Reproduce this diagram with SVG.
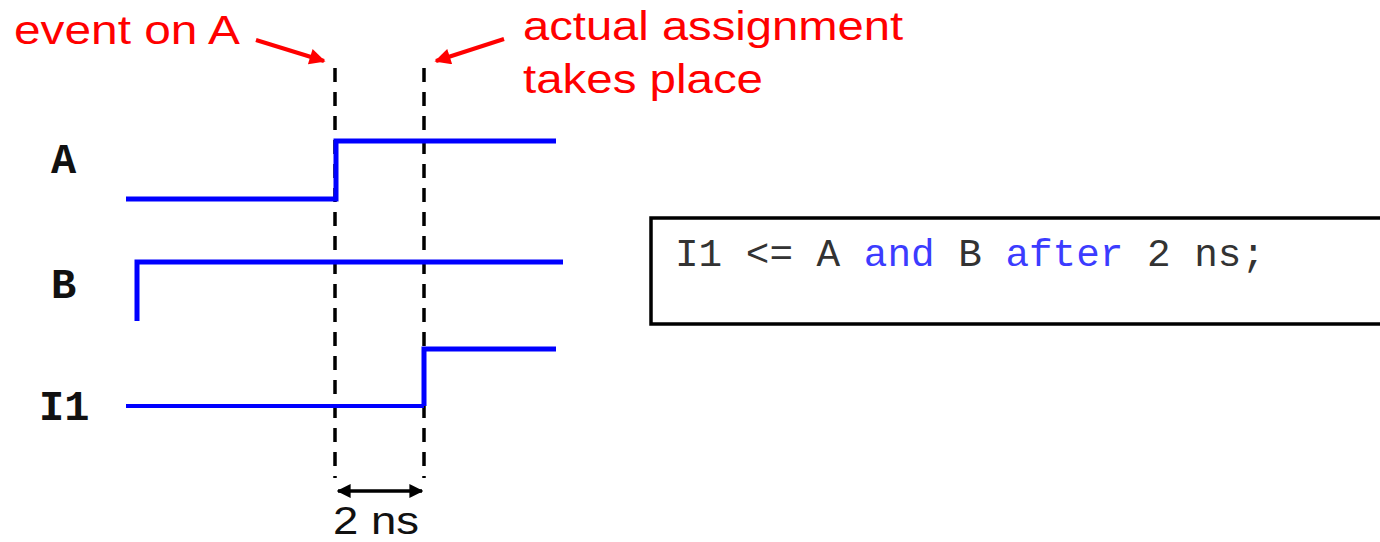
<svg xmlns="http://www.w3.org/2000/svg" width="1380" height="542" viewBox="0 0 1380 542">
<style>
.sig{fill:none;stroke:#0000ff;stroke-width:5;stroke-linejoin:miter}
.dash{fill:none;stroke:#000;stroke-width:3.5;stroke-dasharray:14 10}
.red{font-family:"Liberation Sans",Arial,sans-serif;font-size:40px;fill:#ff0000}
.lbl{font-family:"Liberation Mono","Courier New",monospace;font-weight:bold;font-size:42px;fill:#111}
.code{font-family:"Liberation Mono","Courier New",monospace;font-size:39px;fill:#333}
.kw{fill:#3c3cff}
.ra{fill:none;stroke:#ff0000;stroke-width:4}
.ba{fill:none;stroke:#000;stroke-width:3.5}
</style>
<defs>
<marker id="redhead" viewBox="0 0 10 10" refX="9" refY="5" markerWidth="4.2" markerHeight="4" markerUnits="strokeWidth" orient="auto">
<path d="M0,0 L10,5 L0,10 z" fill="#ff0000"/>
</marker>
<marker id="blkhead" viewBox="0 0 10 10" refX="9" refY="5" markerWidth="4" markerHeight="4" markerUnits="strokeWidth" orient="auto-start-reverse">
<path d="M0,0 L10,5 L0,10 z" fill="#000"/>
</marker>
</defs>
<rect width="1380" height="542" fill="#fff"/>

<g id="label-event">
<text class="red" x="14" y="44" textLength="226" lengthAdjust="spacingAndGlyphs">event on A</text>
</g>
<g id="label-assign">
<text class="red" x="523" y="40" textLength="380" lengthAdjust="spacingAndGlyphs">actual assignment</text>
<text class="red" x="523" y="93" textLength="240" lengthAdjust="spacingAndGlyphs">takes place</text>
</g>

<g id="marker-lines">
<line class="dash" x1="335" y1="68" x2="335" y2="478"/>
<line class="dash" x1="424" y1="68" x2="424" y2="478"/>
</g>

<g id="signal-A">
<text class="lbl" x="51" y="173">A</text>
<path class="sig" d="M126,199 H336 V141 H556"/>
</g>
<g id="signal-B">
<text class="lbl" x="51" y="298">B</text>
<path class="sig" d="M137,321 V262 H563"/>
</g>
<g id="signal-I1">
<text class="lbl" x="39" y="420">I1</text>
<path class="sig" style="stroke-width:4" d="M126,406 H424"/>
<path class="sig" d="M424,406 V349 H556"/>
</g>

<g id="code-box">
<rect x="651" y="218" width="800" height="106" fill="#fff" stroke="#000" stroke-width="3.5"/>
<text class="code" x="675" y="266" textLength="590" lengthAdjust="spacingAndGlyphs">I1 &lt;= A <tspan class="kw">and</tspan> B <tspan class="kw">after</tspan> 2 ns;</text>
</g>

<g id="delay-label">
<text x="333" y="534" font-family="Liberation Sans,Arial,sans-serif" font-size="38" fill="#111" textLength="86" lengthAdjust="spacingAndGlyphs">2 ns</text>
</g>

<g id="connectors">
<line class="ra" x1="256" y1="40" x2="324" y2="61" marker-end="url(#redhead)"/>
<line class="ra" x1="504" y1="39" x2="436" y2="61" marker-end="url(#redhead)"/>
<line class="ba" x1="338" y1="491" x2="422" y2="491" marker-start="url(#blkhead)" marker-end="url(#blkhead)"/>
</g>
</svg>
